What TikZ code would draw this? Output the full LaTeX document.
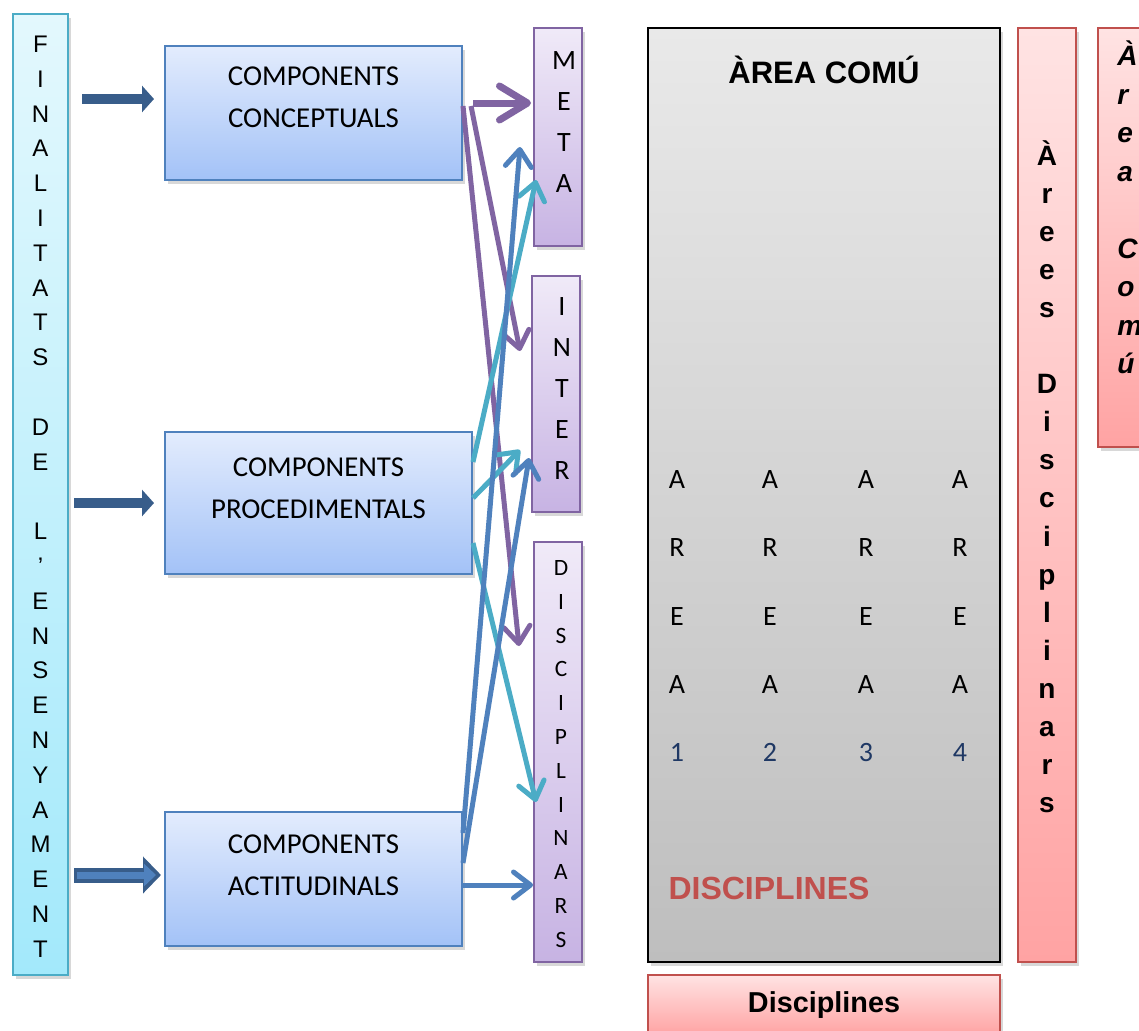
\documentclass[tikz,border=0pt]{standalone}
\usepackage{fontspec}
\setmainfont{Liberation Sans}
\newfontfamily\carlito{Carlito}
\usepackage{tikz}
\usetikzlibrary{arrows.meta,positioning,shadows}
\definecolor{finline}{HTML}{4BACC6}
\definecolor{fintop}{HTML}{E3F8FD}
\definecolor{finbot}{HTML}{A3E9FB}
\definecolor{compline}{HTML}{4F81BD}
\definecolor{comptop}{HTML}{E3ECFD}
\definecolor{compbot}{HTML}{A3C2F7}
\definecolor{purpline}{HTML}{8064A2}
\definecolor{purptop}{HTML}{F0EAF8}
\definecolor{purpbot}{HTML}{C7B3E3}
\definecolor{greytop}{HTML}{E9E9E9}
\definecolor{greybot}{HTML}{BEBEBE}
\definecolor{pinkline}{HTML}{C0504D}
\definecolor{pinktop}{HTML}{FFE3E3}
\definecolor{pinkbot}{HTML}{FFA3A3}
\definecolor{feedblue}{HTML}{385D8A}
\definecolor{numblue}{HTML}{1F3864}
\tikzstyle{shade}=[drop shadow={opacity=0.3,shadow xshift=1.5pt,shadow yshift=-2pt}]
\tikzstyle{finbox}=[shade,draw=finline,line width=1pt,top color=fintop,bottom color=finbot,inner sep=0pt]
\tikzstyle{compbox}=[shade,draw=compline,line width=1pt,top color=comptop,bottom color=compbot,inner sep=0pt]
\tikzstyle{targbox}=[shade,draw=purpline,line width=1pt,top color=purptop,bottom color=purpbot,inner sep=0pt]
\tikzstyle{pinkbox}=[shade,draw=pinkline,line width=1pt,top color=pinktop,bottom color=pinkbot,inner sep=0pt]
\tikzstyle{comptext}=[align=center,font=\carlito\fontsize{14.4}{21}\selectfont]
\tikzstyle{finch}=[anchor=base,inner sep=0pt,font=\fontsize{12}{14}\selectfont]
\tikzstyle{targch}=[anchor=base,inner sep=0pt,font=\carlito\fontsize{14}{16}\selectfont]
\tikzstyle{gridch}=[inner sep=0pt,font=\carlito\fontsize{14}{16}\selectfont]
\tikzstyle{boldch}=[anchor=base,inner sep=0pt,font=\bfseries\fontsize{14}{16}\selectfont]
\tikzstyle{link}=[line width=2.5pt,-{Straight Barb[length=8.5pt,width=13pt,round]}]
\tikzstyle{feed}=[line width=5pt,draw=feedblue,-{Triangle[length=6pt,width=13pt]}]

\begin{document}
\begin{tikzpicture}[x=0.5pt,y=-0.5pt]
\fill[white] (0,0) rectangle (1139,1030);
\useasboundingbox (0,0) rectangle (1139,1030);
\clip (0,0) rectangle (1139,1030);

% finalitats column
\node[finbox,minimum width=27.5pt,minimum height=480.5pt] (fin) at (40.5,494.5) {};
\foreach \l [count=\i from 0] in {F,I,N,A,L,I,T,A,T,S,{},D,E,{},L,’,E,N,S,E,N,Y,A,M,E,N,T}
  \node[finch] (f\i) at (40.5,52.5+34.8*\i) {\l};

% components
\node[compbox,minimum width=148.5pt,minimum height=67pt] (conc) at (313.5,113) {};
\node[compbox,minimum width=153.5pt,minimum height=71pt] (proc) at (318.5,503) {};
\node[compbox,minimum width=148.5pt,minimum height=67pt] (acti) at (313.5,879) {};
\node[comptext] (conct) at (313.5,97) {COMPONENTS\\CONCEPTUALS};
\node[comptext] (proct) at (318.5,488) {COMPONENTS\\PROCEDIMENTALS};
\node[comptext] (actit) at (313.5,865) {COMPONENTS\\ACTITUDINALS};

% targets
\node[targbox,minimum width=24pt,minimum height=109pt] (meta) at (558,137) {};
\node[targbox,minimum width=24pt,minimum height=118pt] (inter) at (556,394) {};
\node[targbox,minimum width=24pt,minimum height=210pt] (disc) at (558,752) {};
\foreach \l [count=\i from 0] in {M,E,T,A}
  \node[targch] (m\i) at (564,69+41*\i) {\l};
\foreach \l [count=\i from 0] in {I,N,T,E,R}
  \node[targch] (t\i) at (562,315+41.2*\i) {\l};
\foreach \l [count=\i from 0] in {D,I,S,C,I,P,L,I,N,A,R,S}
  \node[targch,font=\carlito\fontsize{11.7}{14}\selectfont] (d\i) at (561,575.5+33.8*\i) {\l};

% area comu
\node[shade,draw=black,line width=1.2pt,top color=greytop,bottom color=greybot,
  minimum width=176pt,minimum height=467pt] (comu) at (824,495) {};
\node[font=\bfseries\fontsize{15.5}{18}\selectfont] (comut) at (824,70) {ÀREA COMÚ};
\foreach \c [count=\k] in {677,770,866,960} {
  \foreach \l [count=\j from 0] in {A,R,E,A}
    \node[gridch] (g\k\j) at (\c,480+68*\j) {\l};
  \node[gridch,text=numblue] (n\k) at (\c,752) {\k};
}
\node[font=\bfseries\fontsize{16}{18}\selectfont,text=pinkline] (disct) at (769,888) {DISCIPLINES};

% arees disciplinars
\node[pinkbox,minimum width=29pt,minimum height=467pt] (arees) at (1047,495) {};
\foreach \l [count=\i from 0] in {À,r,e,e,s,{},D,i,s,c,i,p,l,i,n,a,r,s}
  \node[boldch] (a\i) at (1047,165+38.1*\i) {\l};
\node[pinkbox,minimum width=41pt,minimum height=209.5pt] (arcom) at (1139,237.5) {};
\foreach \l [count=\i from 0] in {À,r,e,a,{},C,o,m,ú}
  \node[boldch,anchor=base west,font=\bfseries\itshape\fontsize{14}{16}\selectfont] (r\i) at (1117,65.5+38.5*\i) {\l};
\node[pinkbox,minimum width=176pt,minimum height=30pt] (discb) at (824,1005)
  {\bfseries\fontsize{14.4}{16}\selectfont Disciplines};

% block arrows
\draw[feed] ([xshift=6.5pt,yshift=7pt]fin.east |- conc.west) -- ([xshift=-5pt,yshift=7pt]conc.west);
\draw[feed] ([xshift=2.5pt]fin.east |- proc.west) -- ([xshift=-5pt]proc.west);
\draw[feed,line width=7.5pt,-{Triangle[length=9pt,width=18pt]}]
  ([xshift=2.5pt,yshift=2pt]fin.east |- acti.west) -- ([xshift=-1.5pt,yshift=2pt]acti.west);
\draw[line width=3.5pt,draw=compline,-{Triangle[length=6pt,width=11pt]},shorten <=1.5pt,shorten >=2.5pt]
  ([xshift=2.5pt,yshift=2pt]fin.east |- acti.west) -- ([xshift=-1.5pt,yshift=2pt]acti.west);

% links
\draw[link,purpline,line width=3.5pt,-{Straight Barb[length=14pt,width=17pt,round]}]
  ([xshift=5pt,yshift=5pt]conc.east) -- ([xshift=-1pt,yshift=17pt]meta.west);
\draw[link,purpline] ([xshift=4pt,yshift=3.5pt]conc.east) -- ([xshift=-5.5pt,yshift=21.5pt]inter.west);
\draw[link,purpline] ([yshift=3.5pt]conc.east) -- ([xshift=-7pt,yshift=53pt]disc.west);
\draw[link,finline] ([yshift=20.5pt]proc.east) -- ([xshift=1.5pt,yshift=-21.5pt]meta.west);
\draw[link,finline] ([yshift=2.5pt]proc.east) -- ([xshift=-5.5pt,yshift=-28pt]inter.west);
\draw[link,finline] ([yshift=-20pt]proc.east) -- ([xshift=1.5pt,yshift=-25pt]disc.west);
\draw[link,compline] ([yshift=23pt]acti.east) -- ([xshift=-6.5pt,yshift=-5pt]meta.west);
\draw[link,compline] ([yshift=8pt]acti.east) -- ([xshift=-1pt,yshift=-32pt]inter.west);
\draw[link,compline] ([yshift=-3pt]acti.east) -- ([yshift=-3pt]acti.east -| disc.west);
\end{tikzpicture}
\end{document}
